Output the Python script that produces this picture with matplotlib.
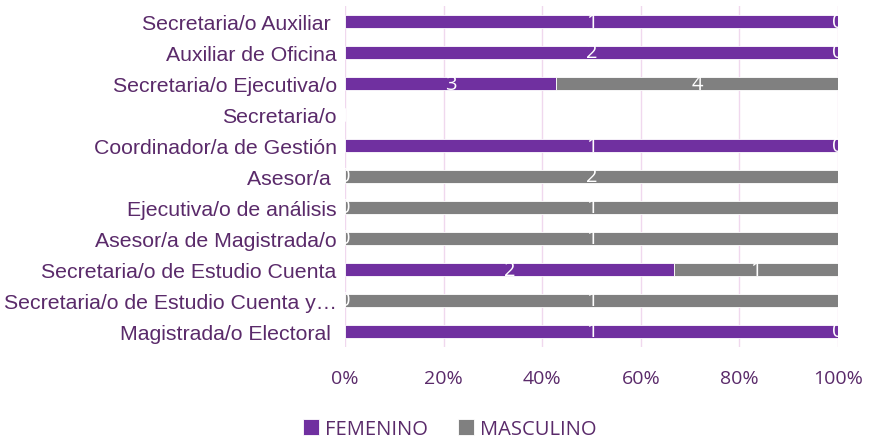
import numpy as np
import matplotlib.pyplot as plt

plt.rcParams['font.family'] = ['Open Sans', 'DejaVu Sans']

categorias = ['Secretaria/o Auxiliar ', 'Auxiliar de Oficina', 'Secretaria/o Ejecutiva/o',
              'Secretaria/o', 'Coordinador/a de Gestión', 'Asesor/a ',
              'Ejecutiva/o de análisis', 'Asesor/a de Magistrada/o',
              'Secretaria/o de Estudio Cuenta', 'Secretaria/o de Estudio Cuenta y…',
              'Magistrada/o Electoral ']
femenino = [1, 2, 3, 0, 1, 0, 0, 0, 2, 0, 1]
masculino = [0, 0, 4, 0, 0, 2, 1, 1, 1, 1, 0]
xticks = [0, 20, 40, 60, 80, 100]
xticklabels = ['0%', '20%', '40%', '60%', '80%', '100%']

purple = '#7030a0'
gray = '#808080'
textc = '#5a2a6a'

fem = np.array(femenino, dtype=float)
mas = np.array(masculino, dtype=float)
tot = fem + mas
with np.errstate(invalid='ignore', divide='ignore'):
    pf = np.where(tot > 0, fem / tot * 100, 0)
    pm = np.where(tot > 0, mas / tot * 100, 0)

fig = plt.figure(figsize=(8.69, 4.39), dpi=100)
ax = fig.add_axes([345 / 869, 1 - 348 / 439, (838 - 345) / 869, (348 - 7) / 439])

y = np.arange(len(categorias))
b1 = ax.barh(y, pf, height=0.4, color=purple, edgecolor='white', linewidth=0.6, label='FEMENINO')
b2 = ax.barh(y, pm, left=pf, height=0.4, color=gray, edgecolor='white', linewidth=0.6, label='MASCULINO')

for i in range(len(categorias)):
    if tot[i] == 0:
        continue
    ax.text(pf[i] / 2, y[i], str(femenino[i]), color='white', fontsize=14.5,
            ha='center', va='center', clip_on=True)
    ax.text(pf[i] + pm[i] / 2, y[i], str(masculino[i]), color='white', fontsize=14.5,
            ha='center', va='center', clip_on=True)

ax.set_xlim(0, 100)
ax.set_ylim(len(categorias) - 0.5, -0.5)
ax.set_yticks(y)
ax.set_yticklabels(categorias, fontsize=15.3, color=textc, family='Liberation Sans')
ax.set_xticks(xticks)
ax.set_xticklabels(xticklabels, fontsize=14, color=textc)
ax.tick_params(axis='y', length=0, pad=6)
ax.tick_params(axis='x', length=0, pad=16)
ax.grid(axis='x', color='#f0d8ee', linewidth=1)
ax.set_axisbelow(True)
for s in ax.spines.values():
    s.set_visible(False)

leg = fig.legend(handles=[b1, b2], loc='center', bbox_to_anchor=(450 / 869, 1 - 430 / 439),
                 ncol=2, frameon=False, fontsize=14.5, handlelength=0.8, handleheight=0.8,
                 columnspacing=1.5, handletextpad=0.3)
for t in leg.get_texts():
    t.set_color(textc)

fig.savefig('out.png', dpi=100)
